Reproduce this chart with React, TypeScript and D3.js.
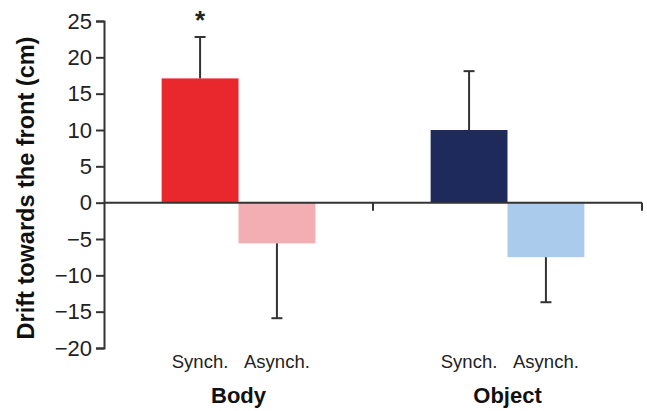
import React, { useEffect, useRef } from 'react';
import * as d3 from 'd3';

const groups = ['Body', 'Object'];
const conditions = ['Synch.', 'Asynch.'];
const means = [
  [17.1, -5.6],
  [10.0, -7.5],
];
const errors = [
  [5.7, 10.3],
  [8.1, 6.2],
];
const barColors = [
  ['#e8282c', '#f2aeb2'],
  ['#1f2a5c', '#aacbeb'],
];
const yTicks = [-20, -15, -10, -5, 0, 5, 10, 15, 20, 25];

const FONT = 'Liberation Sans, Arial, sans-serif';

export default function App() {
  const ref = useRef<SVGSVGElement>(null);

  useEffect(() => {
    const width = 647;
    const height = 411;
    const margin = { left: 104, right: 5, top: 21, bottom: 63 };

    const svg = d3.select(ref.current);
    svg.selectAll('*').remove();

    const y = d3.scaleLinear().domain([-20, 25]).range([height - margin.bottom, margin.top]);
    const x0 = d3.scaleBand().domain(groups).range([margin.left, width - margin.right]).padding(0);
    const x1 = d3
      .scaleBand()
      .domain(conditions)
      .range([0, x0.bandwidth()])
      .paddingInner(0)
      .paddingOuter(0.75);

    const rows = groups.flatMap((g, gi) =>
      conditions.map((c, ci) => ({ g, c, gi, ci, v: means[gi][ci], e: errors[gi][ci] }))
    );

    // bars
    svg
      .selectAll('rect.bar')
      .data(rows)
      .enter()
      .append('rect')
      .attr('class', 'bar')
      .attr('x', (d) => x0(d.g)! + x1(d.c)!)
      .attr('width', x1.bandwidth())
      .attr('y', (d) => y(Math.max(0, d.v)))
      .attr('height', (d) => Math.abs(y(d.v) - y(0)))
      .style('fill', (d) => barColors[d.gi][d.ci]);

    // error bars (one-sided, away from zero)
    const eb = svg.selectAll('g.err').data(rows).enter().append('g').attr('class', 'err');
    const cx = (d: any) => x0(d.g)! + x1(d.c)! + x1.bandwidth() / 2;
    const tip = (d: any) => y(d.v + Math.sign(d.v) * d.e);
    eb.append('line')
      .attr('x1', cx)
      .attr('x2', cx)
      .attr('y1', (d) => y(d.v))
      .attr('y2', tip)
      .style('stroke', '#333')
      .style('stroke-width', 2);
    eb.append('line')
      .attr('x1', (d) => cx(d) - 5.5)
      .attr('x2', (d) => cx(d) + 5.5)
      .attr('y1', tip)
      .attr('y2', tip)
      .style('stroke', '#333')
      .style('stroke-width', 2);

    // significance star
    svg
      .append('text')
      .attr('x', cx(rows[0]))
      .attr('y', y(rows[0].v + rows[0].e) - 8)
      .attr('text-anchor', 'middle')
      .style('font-family', FONT)
      .style('font-weight', 'bold')
      .style('font-size', '26px')
      .style('fill', '#222')
      .text('*');

    // y axis
    const yAxis = svg
      .append('g')
      .attr('transform', `translate(${margin.left},0)`)
      .call(
        d3
          .axisLeft(y)
          .tickValues(yTicks)
          .tickSize(8)
          .tickPadding(4)
          .tickFormat((d) => String(d).replace('-', '\u2212'))
      );
    yAxis.select('.domain').style('stroke', '#333').style('stroke-width', 2);
    yAxis.selectAll('.tick line').style('stroke', '#333').style('stroke-width', 2);
    yAxis
      .selectAll('.tick text')
      .style('font-family', FONT)
      .style('font-size', '22px')
      .style('fill', '#222');

    // zero line with group dividers
    const zero = svg.append('g').attr('transform', `translate(0,${y(0)})`);
    zero
      .append('line')
      .attr('x1', margin.left)
      .attr('x2', width - margin.right)
      .style('stroke', '#333')
      .style('stroke-width', 2);
    zero
      .selectAll('line.div')
      .data(groups)
      .enter()
      .append('line')
      .attr('class', 'div')
      .attr('x1', (g) => x0(g)! + x0.bandwidth())
      .attr('x2', (g) => x0(g)! + x0.bandwidth())
      .attr('y1', 0)
      .attr('y2', 8)
      .style('stroke', '#333')
      .style('stroke-width', 2);

    // condition labels
    svg
      .selectAll('text.cond')
      .data(rows)
      .enter()
      .append('text')
      .attr('class', 'cond')
      .attr('x', cx)
      .attr('y', 368)
      .attr('text-anchor', 'middle')
      .style('font-family', FONT)
      .style('font-size', '18.5px')
      .style('fill', '#222')
      .text((d) => d.c);

    // group labels
    svg
      .selectAll('text.grp')
      .data(groups)
      .enter()
      .append('text')
      .attr('class', 'grp')
      .attr('x', (g) => x0(g)! + x0.bandwidth() / 2)
      .attr('y', 403)
      .attr('text-anchor', 'middle')
      .style('font-family', FONT)
      .style('font-weight', 'bold')
      .style('font-size', '22px')
      .style('fill', '#111')
      .text((g) => g);

    // y label
    svg
      .append('text')
      .attr('transform', `translate(34,188) rotate(-90)`)
      .attr('text-anchor', 'middle')
      .style('font-family', FONT)
      .style('font-weight', 'bold')
      .style('font-size', '23.5px')
      .style('fill', '#111')
      .text('Drift towards the front (cm)');
  }, []);

  return (
    <svg
      ref={ref}
      width={647}
      height={411}
      style={{ position: 'absolute', left: 0, top: 0, background: '#fff' }}
    />
  );
}
